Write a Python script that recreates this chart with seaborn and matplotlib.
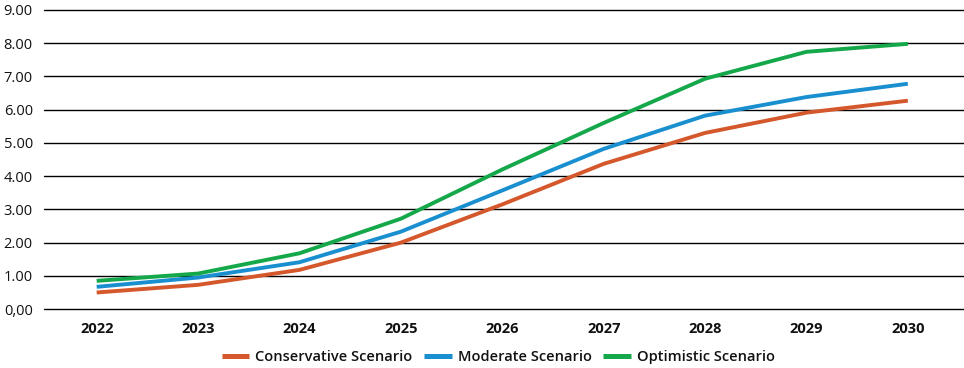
import pandas as pd
import matplotlib.pyplot as plt
import seaborn as sns
from matplotlib.ticker import FixedLocator, FixedFormatter

years = [2022, 2023, 2024, 2025, 2026, 2027, 2028, 2029, 2030]
conservative = [0.50, 0.73, 1.18, 2.00, 3.15, 4.37, 5.30, 5.91, 6.27]
moderate = [0.67, 0.95, 1.41, 2.33, 3.57, 4.82, 5.82, 6.38, 6.78]
optimistic = [0.85, 1.07, 1.68, 2.72, 4.20, 5.60, 6.93, 7.74, 7.98]
scenarios = ['Conservative Scenario', 'Moderate Scenario', 'Optimistic Scenario']
colors = ['#d4582b', '#1a8fd0', '#14a84b']
y_ticks = [0, 1, 2, 3, 4, 5, 6, 7, 8, 9]
y_labels = ['0,00', '1.00', '2.00', '3.00', '4.00', '5.00', '6.00', '7.00', '8.00', '9.00']

df = pd.concat([
    pd.DataFrame({'year': years, 'value': vals, 'scenario': name})
    for name, vals in zip(scenarios, [conservative, moderate, optimistic])
])

sns.set_style('white')
plt.rcParams['font.family'] = ['Open Sans', 'DejaVu Sans']

fig = plt.figure(figsize=(9.64, 3.68), dpi=100)
ax = fig.add_axes([0.0456, 0.160, 0.954, 0.813])

# horizontal rules, incl. the ones at 0 and 9
for y in y_ticks:
    ax.axhline(y, color='black', lw=1.0, zorder=1, clip_on=False)

sns.lineplot(data=df, x='year', y='value', hue='scenario', palette=colors,
             linewidth=2.8, ax=ax, zorder=3, solid_capstyle='butt')

ax.set_xlim(2021.48, 2030.55)
ax.set_ylim(0, 9)
ax.set_xticks(years)
ax.set_xticklabels([str(y) for y in years], fontsize=10.5, fontweight='bold', color='#111111')
ax.yaxis.set_major_locator(FixedLocator(y_ticks))
ax.yaxis.set_major_formatter(FixedFormatter(y_labels))
ax.tick_params(axis='y', labelsize=10.5, length=0, pad=8, labelcolor='#111111')
ax.tick_params(axis='x', length=0, pad=9)
ax.set_xlabel('')
ax.set_ylabel('')
for s in ax.spines.values():
    s.set_visible(False)

handles, labels = ax.get_legend_handles_labels()
ax.legend_.remove()
leg = fig.legend(handles, labels, loc='center', bbox_to_anchor=(0.517, 0.03), ncol=3,
                 frameon=False, handlelength=1.9, handletextpad=0.4, columnspacing=0.8,
                 prop={'size': 10.5, 'weight': 'semibold'}, labelcolor='#111111')
for line in leg.get_lines():
    line.set_linewidth(3.6)
    line.set_solid_capstyle('butt')

fig.savefig('out.png', dpi=100)
